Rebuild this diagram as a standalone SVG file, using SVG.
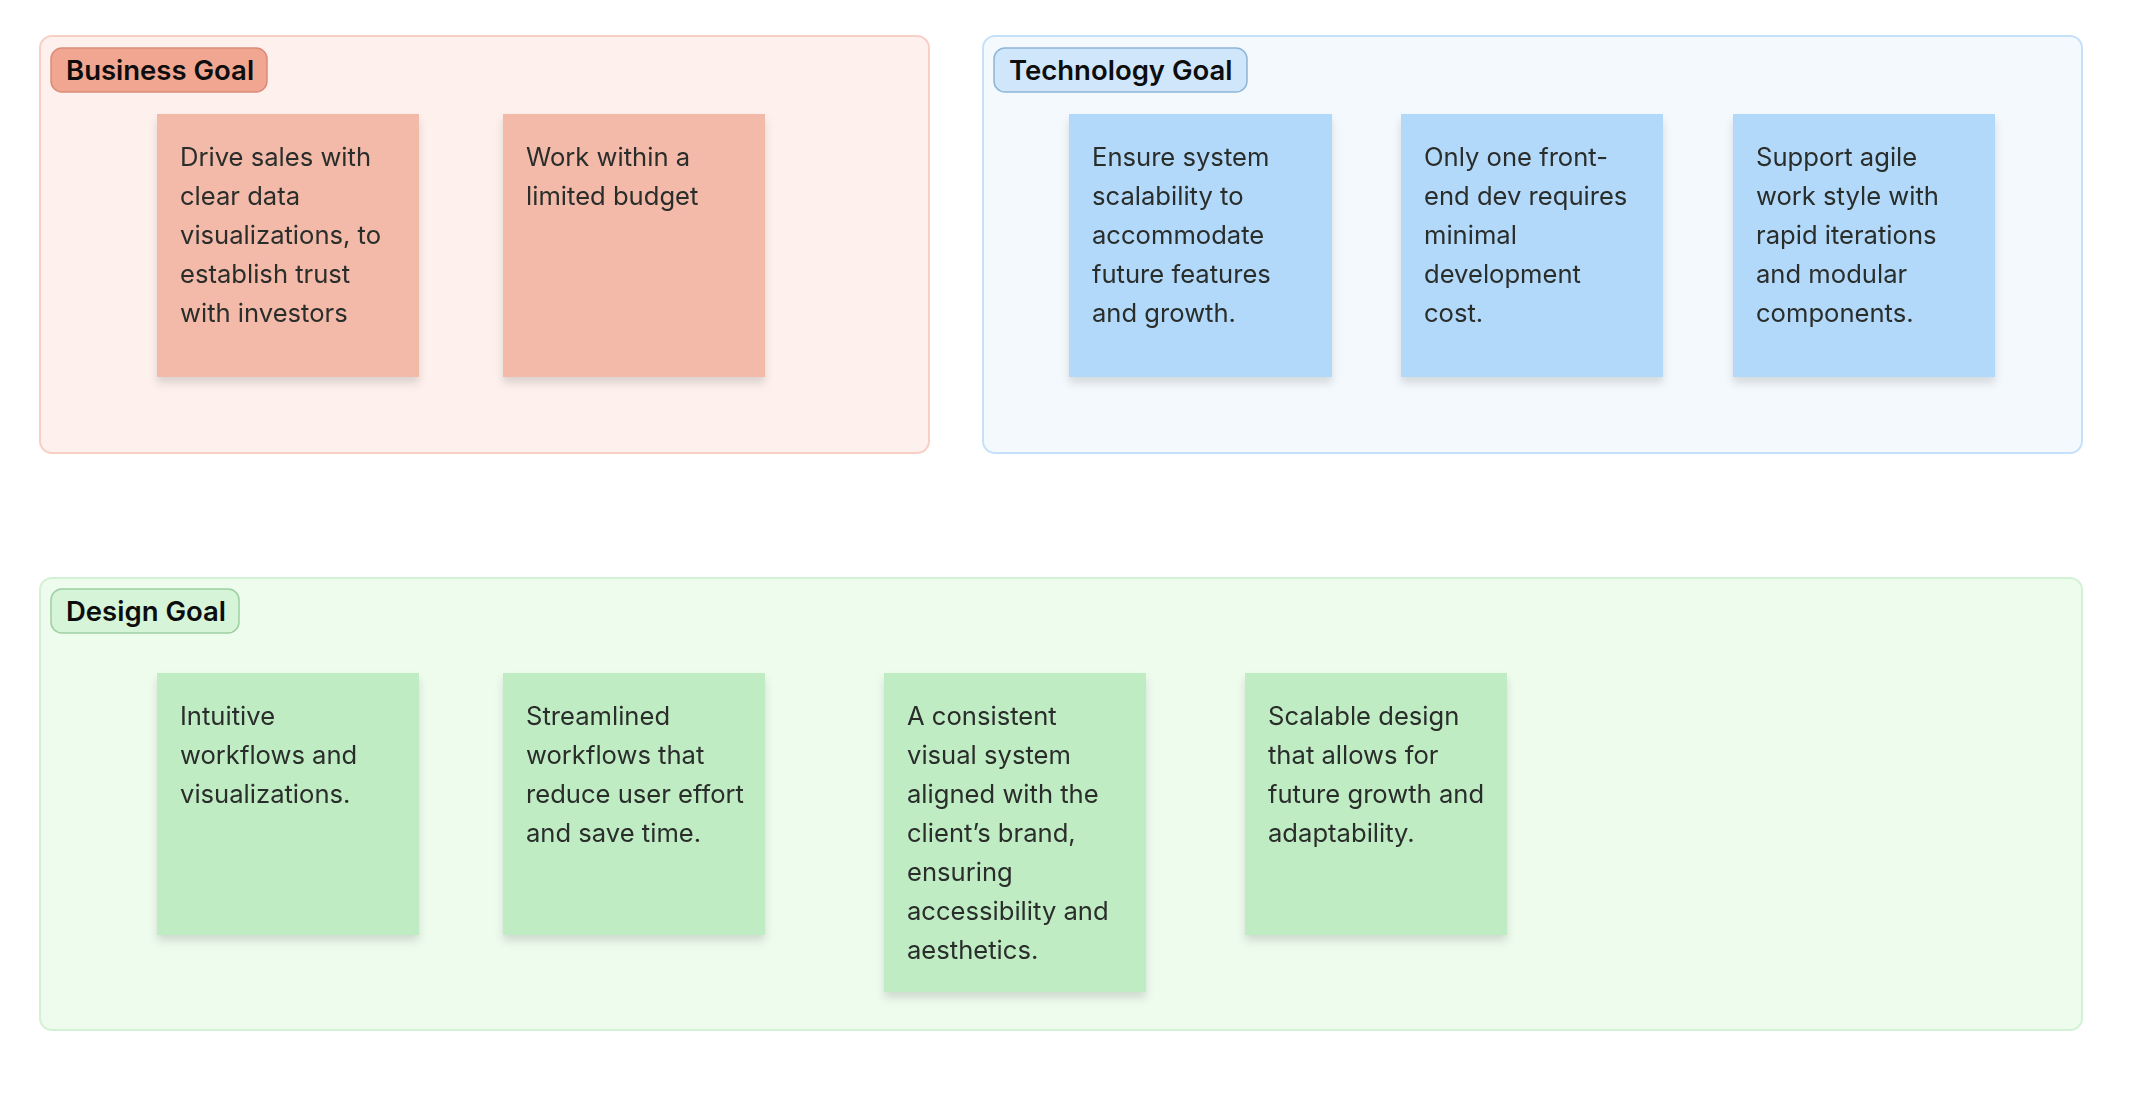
<svg xmlns="http://www.w3.org/2000/svg" width="2154" height="1100" viewBox="0 0 2154 1100">
<style>
.lbl{font-family:Inter,"Noto Sans","Liberation Sans",sans-serif;font-size:27.5px;font-weight:600;fill:#0d0d0d}
.st{font-family:Inter,"Noto Sans","Liberation Sans",sans-serif;font-size:25.6px;fill:#2a2d2b}
.bz{fill:#fdf0ed;stroke:#f8cfc4;stroke-width:2}
.tz{fill:#f4f9fe;stroke:#c5e1f9;stroke-width:2}
.dz{fill:#eefcee;stroke:#d3f2d5;stroke-width:2}
.bp{fill:#f1a692;stroke:#d98c79;stroke-width:1.5}
.tp{fill:#d0e7fb;stroke:#8fb5d8;stroke-width:1.5}
.dp{fill:#d6f4d8;stroke:#9dcfa1;stroke-width:1.5}
.bs{fill:#f4baa9}
.ts{fill:#b2d8fa}
.ds{fill:#c0ecc4}
</style>
<defs>
<filter id="sh" x="-10%" y="-10%" width="120%" height="130%">
<feDropShadow dx="0" dy="6" stdDeviation="4" flood-color="#000" flood-opacity="0.13"/>
</filter>
</defs>
<rect width="2154" height="1100" fill="#ffffff"/>
<g id="business-goal">
<rect class="bz" x="40" y="36" width="889" height="417" rx="12"/>
<rect class="bp" x="51" y="48" width="216" height="44" rx="11"/>
<text class="lbl" x="66" y="80">Business Goal</text>
</g>
<g id="technology-goal">
<rect class="tz" x="983" y="36" width="1099" height="417" rx="12"/>
<rect class="tp" x="994" y="48" width="253" height="44" rx="11"/>
<text class="lbl" x="1009" y="80">Technology Goal</text>
</g>
<g id="design-goal">
<rect class="dz" x="40" y="578" width="2042" height="452" rx="12"/>
<rect class="dp" x="51" y="589" width="188" height="44" rx="11"/>
<text class="lbl" x="66" y="621">Design Goal</text>
</g>
<g id="b1" filter="url(#sh)">
<rect class="bs" x="157" y="114" width="262" height="263"/>
<text class="st" x="180" y="166"><tspan x="180">Drive sales with</tspan><tspan x="180" dy="39">clear data</tspan><tspan x="180" dy="39">visualizations, to</tspan><tspan x="180" dy="39">establish trust</tspan><tspan x="180" dy="39">with investors</tspan></text>
</g>
<g id="b2" filter="url(#sh)">
<rect class="bs" x="503" y="114" width="262" height="263"/>
<text class="st" x="526" y="166"><tspan x="526">Work within a</tspan><tspan x="526" dy="39">limited budget</tspan></text>
</g>
<g id="t1" filter="url(#sh)">
<rect class="ts" x="1069" y="114" width="263" height="263"/>
<text class="st" x="1092" y="166"><tspan x="1092">Ensure system</tspan><tspan x="1092" dy="39">scalability to</tspan><tspan x="1092" dy="39">accommodate</tspan><tspan x="1092" dy="39">future features</tspan><tspan x="1092" dy="39">and growth.</tspan></text>
</g>
<g id="t2" filter="url(#sh)">
<rect class="ts" x="1401" y="114" width="262" height="263"/>
<text class="st" x="1424" y="166"><tspan x="1424">Only one front-</tspan><tspan x="1424" dy="39">end dev requires</tspan><tspan x="1424" dy="39">minimal</tspan><tspan x="1424" dy="39">development</tspan><tspan x="1424" dy="39">cost.</tspan></text>
</g>
<g id="t3" filter="url(#sh)">
<rect class="ts" x="1733" y="114" width="262" height="263"/>
<text class="st" x="1756" y="166"><tspan x="1756">Support agile</tspan><tspan x="1756" dy="39">work style with</tspan><tspan x="1756" dy="39">rapid iterations</tspan><tspan x="1756" dy="39">and modular</tspan><tspan x="1756" dy="39">components.</tspan></text>
</g>
<g id="d1" filter="url(#sh)">
<rect class="ds" x="157" y="673" width="262" height="262"/>
<text class="st" x="180" y="725"><tspan x="180">Intuitive</tspan><tspan x="180" dy="39">workflows and</tspan><tspan x="180" dy="39">visualizations.</tspan></text>
</g>
<g id="d2" filter="url(#sh)">
<rect class="ds" x="503" y="673" width="262" height="262"/>
<text class="st" x="526" y="725"><tspan x="526">Streamlined</tspan><tspan x="526" dy="39">workflows that</tspan><tspan x="526" dy="39">reduce user effort</tspan><tspan x="526" dy="39">and save time.</tspan></text>
</g>
<g id="d3" filter="url(#sh)">
<rect class="ds" x="884" y="673" width="262" height="319"/>
<text class="st" x="907" y="725"><tspan x="907">A consistent</tspan><tspan x="907" dy="39">visual system</tspan><tspan x="907" dy="39">aligned with the</tspan><tspan x="907" dy="39">client’s brand,</tspan><tspan x="907" dy="39">ensuring</tspan><tspan x="907" dy="39">accessibility and</tspan><tspan x="907" dy="39">aesthetics.</tspan></text>
</g>
<g id="d4" filter="url(#sh)">
<rect class="ds" x="1245" y="673" width="262" height="262"/>
<text class="st" x="1268" y="725"><tspan x="1268">Scalable design</tspan><tspan x="1268" dy="39">that allows for</tspan><tspan x="1268" dy="39">future growth and</tspan><tspan x="1268" dy="39">adaptability.</tspan></text>
</g>
<g id="connectors"/>
</svg>
